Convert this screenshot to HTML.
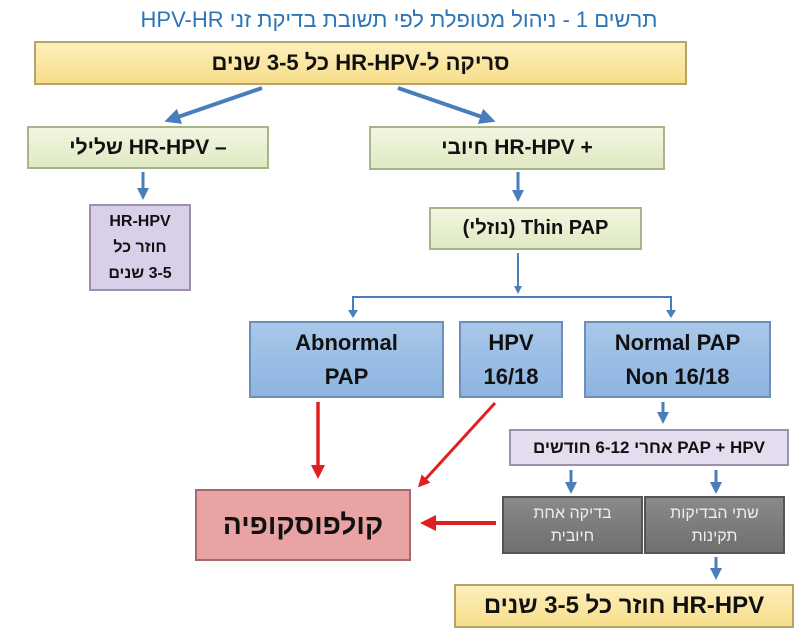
<!DOCTYPE html>
<html><head><meta charset="utf-8"><style>
body{margin:0;background:#fff;}
#w{position:relative;width:798px;height:632px;overflow:hidden;font-family:"Liberation Sans","Noto Sans CJK SC",sans-serif;}
svg{position:absolute;left:0;top:0;display:block;}
.t{position:absolute;display:flex;align-items:center;justify-content:center;text-align:center;direction:rtl;font-weight:bold;color:#111;white-space:nowrap;}
</style></head><body><div id="w">
<svg width="798" height="632" viewBox="0 0 798 632" xmlns="http://www.w3.org/2000/svg">
<defs>
<linearGradient id="y" x1="0" y1="0" x2="0" y2="1"><stop offset="0" stop-color="#fdf0bd"/><stop offset="1" stop-color="#f7dd8a"/></linearGradient>
<linearGradient id="g" x1="0" y1="0" x2="0" y2="1"><stop offset="0" stop-color="#f2f6e2"/><stop offset="1" stop-color="#dfe9c2"/></linearGradient>
<linearGradient id="bl" x1="0" y1="0" x2="0" y2="1"><stop offset="0" stop-color="#a9c8ea"/><stop offset="1" stop-color="#8db4e0"/></linearGradient>
<linearGradient id="gr" x1="0" y1="0" x2="0" y2="1"><stop offset="0" stop-color="#8a8a8a"/><stop offset="1" stop-color="#6f6f6f"/></linearGradient>
<marker id="ab" markerWidth="4" markerHeight="4" refX="2" refY="2" orient="auto"><path d="M0,0 L4,2 L0,4 Z" fill="#4a7ebb"/></marker>
<marker id="ar" markerWidth="4" markerHeight="4" refX="2" refY="2" orient="auto"><path d="M0,0 L4,2 L0,4 Z" fill="#e02020"/></marker>
</defs>
<rect x="35" y="42" width="651" height="42" fill="url(#y)" stroke="#b5a36a" stroke-width="2"/>
<line x1="262" y1="88" x2="172" y2="119" stroke="#4a7ebb" stroke-width="4" marker-end="url(#ab)"/>
<line x1="398" y1="88" x2="488" y2="119" stroke="#4a7ebb" stroke-width="4" marker-end="url(#ab)"/>
<rect x="28" y="127" width="240" height="41" fill="url(#g)" stroke="#a8b48a" stroke-width="2"/>
<rect x="370" y="127" width="294" height="42" fill="url(#g)" stroke="#a8b48a" stroke-width="2"/>
<line x1="143" y1="172" x2="143" y2="194" stroke="#4a7ebb" stroke-width="3" marker-end="url(#ab)"/>
<rect x="90" y="205" width="100" height="85" fill="#d9cfe8" stroke="#9d8fb0" stroke-width="2"/>
<line x1="518" y1="172" x2="518" y2="196" stroke="#4a7ebb" stroke-width="3" marker-end="url(#ab)"/>
<rect x="430" y="208" width="211" height="41" fill="url(#g)" stroke="#a8b48a" stroke-width="2"/>
<line x1="518" y1="253" x2="518" y2="290" stroke="#4a7ebb" stroke-width="2" marker-end="url(#ab)"/>
<polyline points="353,313 353,297 671,297 671,313" fill="none" stroke="#4a7ebb" stroke-width="2"/>
<path d="M348,310 L358,310 L353,318 Z M666,310 L676,310 L671,318 Z" fill="#4a7ebb"/>
<rect x="250" y="322" width="193" height="75" fill="url(#bl)" stroke="#6d8fb8" stroke-width="2"/>
<rect x="460" y="322" width="102" height="75" fill="url(#bl)" stroke="#6d8fb8" stroke-width="2"/>
<rect x="585" y="322" width="185" height="75" fill="url(#bl)" stroke="#6d8fb8" stroke-width="2"/>
<line x1="663" y1="402" x2="663" y2="418" stroke="#4a7ebb" stroke-width="3" marker-end="url(#ab)"/>
<rect x="510" y="430" width="278" height="35" fill="#e4dcef" stroke="#9d8fb0" stroke-width="2"/>
<line x1="571" y1="470" x2="571" y2="488" stroke="#4a7ebb" stroke-width="3" marker-end="url(#ab)"/>
<line x1="716" y1="470" x2="716" y2="488" stroke="#4a7ebb" stroke-width="3" marker-end="url(#ab)"/>
<rect x="503" y="497" width="139" height="56" fill="url(#gr)" stroke="#555" stroke-width="2"/>
<rect x="645" y="497" width="139" height="56" fill="url(#gr)" stroke="#555" stroke-width="2"/>
<line x1="716" y1="557" x2="716" y2="574" stroke="#4a7ebb" stroke-width="3" marker-end="url(#ab)"/>
<rect x="455" y="585" width="338" height="42" fill="url(#y)" stroke="#b5a36a" stroke-width="2"/>
<rect x="196" y="490" width="214" height="70" fill="#e9a3a5" stroke="#a56a6c" stroke-width="2"/>
<line x1="318" y1="402" x2="318" y2="472" stroke="#e02020" stroke-width="3.5" marker-end="url(#ar)"/>
<line x1="495" y1="403" x2="422" y2="483" stroke="#e02020" stroke-width="3" marker-end="url(#ar)"/>
<line x1="496" y1="523" x2="428" y2="523" stroke="#e02020" stroke-width="4" marker-end="url(#ar)"/>
</svg>
<div class="t" style="left:0;top:4px;width:798px;height:32px;font-size:22px;font-weight:normal;color:#2e75b6;">תרשים 1 - ניהול מטופלת לפי תשובת בדיקת זני HPV-HR</div>
<div class="t" style="left:35px;top:42px;width:651px;height:42px;font-size:22px;">סריקה ל-HR-HPV כל 3-5 שנים</div>
<div class="t" style="left:28px;top:127px;width:240px;height:41px;font-size:21px;">– HR-HPV שלילי</div>
<div class="t" style="left:370px;top:127px;width:294px;height:42px;font-size:21px;">+ HR-HPV חיובי</div>
<div class="t" style="left:90px;top:205px;width:100px;height:85px;font-size:16px;line-height:26px;flex-direction:column;"><div>HR-HPV</div><div>חוזר כל</div><div>3-5 שנים</div></div>
<div class="t" style="left:430px;top:208px;width:211px;height:41px;font-size:20px;">Thin PAP (נוזלי)</div>
<div class="t" style="left:250px;top:322px;width:193px;height:75px;font-size:22px;line-height:34px;flex-direction:column;direction:ltr;"><div>Abnormal</div><div>PAP</div></div>
<div class="t" style="left:460px;top:322px;width:102px;height:75px;font-size:22px;line-height:34px;flex-direction:column;direction:ltr;"><div>HPV</div><div>16/18</div></div>
<div class="t" style="left:585px;top:322px;width:185px;height:75px;font-size:22px;line-height:34px;flex-direction:column;direction:ltr;"><div>Normal PAP</div><div>Non 16/18</div></div>
<div class="t" style="left:510px;top:430px;width:278px;height:35px;font-size:17px;">PAP + HPV אחרי 6-12 חודשים</div>
<div class="t" style="left:503px;top:497px;width:139px;height:56px;font-size:16px;font-weight:normal;color:#eee;line-height:23px;flex-direction:column;"><div>בדיקה אחת</div><div>חיובית</div></div>
<div class="t" style="left:645px;top:497px;width:139px;height:56px;font-size:16px;font-weight:normal;color:#eee;line-height:23px;flex-direction:column;"><div>שתי הבדיקות</div><div>תקינות</div></div>
<div class="t" style="left:455px;top:585px;width:338px;height:42px;font-size:24px;">HR-HPV חוזר כל 3-5 שנים</div>
<div class="t" style="left:196px;top:490px;width:214px;height:70px;font-size:28px;">קולפוסקופיה</div>
</div></body></html>
